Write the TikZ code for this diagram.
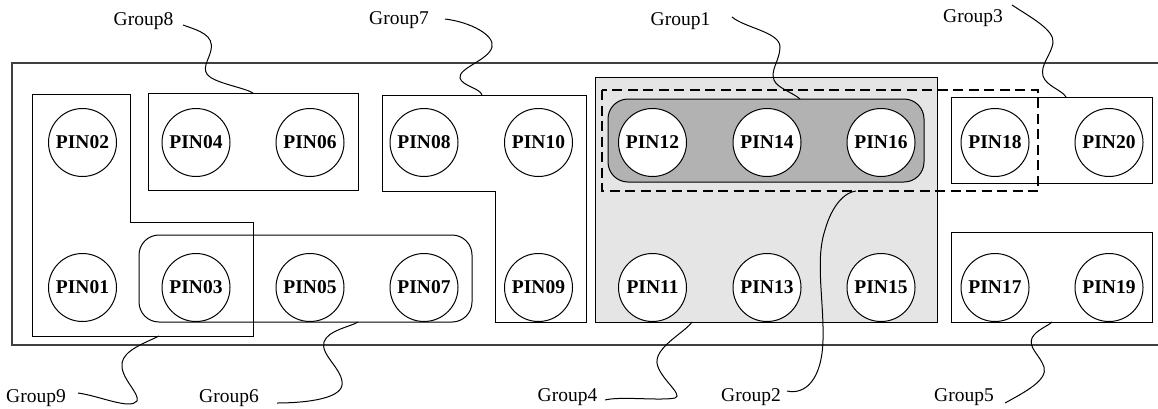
\documentclass[tikz,border=0pt]{standalone}
\usepackage{fontspec}
\setmainfont{Liberation Serif}
\begin{document}
\begin{tikzpicture}[x=1pt,y=-1pt,
  pin/.style={circle,draw,fill=white,minimum size=68pt,inner sep=0pt,
              line width=1pt,font=\fontsize{19.5}{19.5}\selectfont\bfseries},
  grp/.style={draw,line width=1pt},
  roundgrp/.style={grp,rounded corners=20pt},
  frame/.style={draw=black!75,line width=1.1pt},
  dashgrp/.style={draw,line width=2pt,dash pattern=on 10pt off 5.5pt},
  lead/.style={draw,line width=1pt},
  lbl/.style={font=\fontsize{19.5}{20}\selectfont,inner sep=0pt}]
\useasboundingbox (0,0) rectangle (1158,408);

% board outline (runs off the right edge of the page)
\draw[frame] (12,63) rectangle (1162,345);

% shaded groups
\filldraw[grp,fill=black!10] (595,77) rectangle (937,322);
\filldraw[roundgrp,fill=black!30] (608,99) rectangle (924,182);
\draw[dashgrp] (602,90) rectangle (1038,191);

% outlined groups
\draw[grp] (32,94) -- (130,94) -- (130,222) -- (253,222) -- (253,336) -- (32,336) -- cycle;
\draw[grp] (148,93) rectangle (358,190);
\draw[grp] (382,95) -- (586,95) -- (586,322) -- (495,322) -- (495,191) -- (382,191) -- cycle;
\draw[roundgrp] (139,235) rectangle (472,322);
\draw[grp] (951,97) rectangle (1152,183);
\draw[grp] (951,232) rectangle (1152,322);

% pins
\foreach \x/\t/\b in {82.5/02/01, 196/04/03, 310/06/05, 424/08/07, 538.5/10/09,
                      652.5/12/11, 767/14/13, 881/16/15, 995/18/17, 1109/20/19} {
  \node[pin] (pin\t) at (\x,142.5) {PIN\t};
  \node[pin] (pin\b) at (\x,287.5) {PIN\b};
}

% group labels
\node[lbl] (lbl8) at (143.5,21) {Group8};
\node[lbl] (lbl7) at (399,20) {Group7};
\node[lbl] (lbl1) at (680.5,21) {Group1};
\node[lbl] (lbl3) at (973,18) {Group3};
\node[lbl] (lbl9) at (36,398) {Group9};
\node[lbl] (lbl6) at (229,398) {Group6};
\node[lbl] (lbl4) at (567.5,397) {Group4};
\node[lbl] (lbl2) at (751,397) {Group2};
\node[lbl] (lbl5) at (964,397) {Group5};

% leader ends
\coordinate (t8) at (183,25);   \coordinate (e8) at (253,93);
\coordinate (t7) at (445,19);   \coordinate (e7) at (482,95);
\coordinate (t1) at (732,17);   \coordinate (e1) at (800,99);
\coordinate (t3) at (1012,5);   \coordinate (e3) at (1066,97);
\coordinate (t9) at (78,393);   \coordinate (e9) at (159,336);
\coordinate (t6) at (277,403);  \coordinate (e6) at (358,322);
\coordinate (t4) at (605,400);  \coordinate (e4) at (692,322);
\coordinate (t2) at (787,391);  \coordinate (e2) at (856,191);
\coordinate (t5) at (1005,403); \coordinate (e5) at (1052,322);

% wavy leaders
\draw[lead] (t8) .. controls (200,31) and (214,35) .. (211,50)
                 .. controls (209,60) and (200,70) .. (210,77)
                 .. controls (220,84) and (245,88) .. (e8);
\draw[lead] (t7) .. controls (470,22) and (495,35) .. (492,47)
                 .. controls (489,60) and (458,68) .. (460,78)
                 .. controls (462,86) and (480,88) .. (e7);
\draw[lead] (t1) .. controls (745,28) and (780,32) .. (780,47)
                 .. controls (780,60) and (770,70) .. (774,80)
                 .. controls (777,88) and (792,92) .. (e1);
\draw[lead] (t3) .. controls (1030,17) and (1055,30) .. (1053,43)
                 .. controls (1051,55) and (1040,65) .. (1043,76)
                 .. controls (1046,86) and (1062,90) .. (e3);
\draw[lead] (t9) .. controls (100,396) and (130,410) .. (137,401)
                 .. controls (140,393) and (120,378) .. (122,363)
                 .. controls (124,350) and (145,343) .. (e9);
\draw[lead] (t6) .. controls (300,403) and (340,400) .. (342,385)
                 .. controls (344,370) and (320,355) .. (324,342)
                 .. controls (328,330) and (350,327) .. (e6);
\draw[lead] (t4) .. controls (620,396) and (660,401) .. (675,398)
                 .. controls (685,395) and (655,375) .. (657,360)
                 .. controls (659,345) and (685,332) .. (e4);
\draw[lead] (t2) .. controls (805,395) and (822,380) .. (823,340)
                 .. controls (824,300) and (815,260) .. (825,230)
                 .. controls (832,205) and (845,192) .. (e2);
\draw[lead] (t5) .. controls (1025,392) and (1048,380) .. (1044,367)
                 .. controls (1040,355) and (1028,348) .. (1032,338)
                 .. controls (1036,330) and (1048,326) .. (e5);
\end{tikzpicture}
\end{document}
